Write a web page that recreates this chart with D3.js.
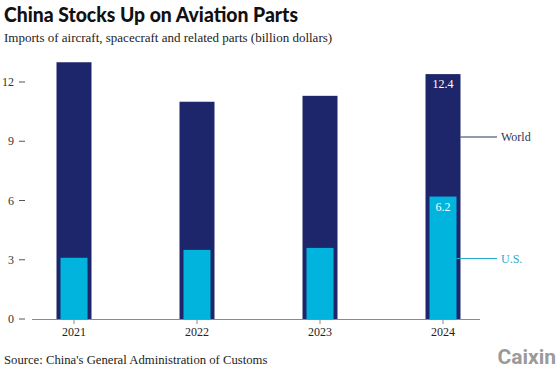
<!DOCTYPE html>
<html><head><meta charset="utf-8">
<script src="https://cdn.jsdelivr.net/npm/d3@7"></script>
<style>body{margin:0;background:#fff}svg{display:block}</style>
</head><body>
<script>
const years = ["2021","2022","2023","2024"];
const world = [13.0, 11.0, 11.3, 12.4];
const us = [3.1, 3.5, 3.6, 6.2];
const yTicks = [0, 3, 6, 9, 12];
const title = "China Stocks Up on Aviation Parts";
const subtitle = "Imports of aircraft, spacecraft and related parts (billion dollars)";
const source = "Source: China's General Administration of Customs";

const W = 560, H = 373;
const navy = "#1e266b", teal = "#00b4de";
const serif = "'Liberation Serif', 'DejaVu Serif', serif";
const svg = d3.select("body").append("svg").attr("width", W).attr("height", H);

svg.append("text").attr("x", 4).attr("y", 22).text(title)
  .attr("textLength", 294).attr("lengthAdjust", "spacingAndGlyphs")
  .style("font-family", "Lato, sans-serif").style("font-weight", 900).style("font-size", "20.5px").attr("fill", "#111");
svg.append("text").attr("x", 4).attr("y", 42).text(subtitle)
  .style("font-family", serif).style("font-size", "13px").attr("fill", "#222");

const x = d3.scaleBand().domain(years).range([12.5, 504.5]);
const y = d3.scaleLinear().domain([0, 12]).range([319, 82]);
const bw = 35, ubw = 27;
const cx = d => x(d) + x.bandwidth() / 2;

// y ticks
const yg = svg.append("g");
yTicks.forEach(t => {
  yg.append("text").attr("x", 14).attr("y", y(t)).attr("dy", "0.35em").attr("text-anchor", "end")
    .text(t).style("font-family", serif).style("font-size", "12px").attr("fill", "#333");
  yg.append("line").attr("x1", 19).attr("x2", 25).attr("y1", y(t)).attr("y2", y(t))
    .attr("stroke", "#555").attr("stroke-width", 1);
});

// bars
svg.selectAll("rect.w").data(years).join("rect").attr("class", "w")
  .attr("x", (d) => cx(d) - bw / 2).attr("width", bw)
  .attr("y", (d, i) => y(world[i])).attr("height", (d, i) => y(0) - y(world[i]))
  .attr("fill", navy);
svg.selectAll("rect.u").data(years).join("rect").attr("class", "u")
  .attr("x", (d) => cx(d) - ubw / 2).attr("width", ubw)
  .attr("y", (d, i) => y(us[i])).attr("height", (d, i) => y(0) - y(us[i]))
  .attr("fill", teal);

// x axis
svg.append("line").attr("x1", 32).attr("x2", 480).attr("y1", y(0) + 0.5).attr("y2", y(0) + 0.5)
  .attr("stroke", "#8a8a8a").attr("stroke-width", 1);
years.forEach(d => {
  svg.append("line").attr("x1", cx(d)).attr("x2", cx(d)).attr("y1", y(0)).attr("y2", y(0) + 5)
    .attr("stroke", "#8a8a8a");
  svg.append("text").attr("x", cx(d)).attr("y", 336).attr("text-anchor", "middle").text(d)
    .style("font-family", serif).style("font-size", "12px").attr("fill", "#222");
});

// value labels on 2024
const last = years.length - 1;
svg.append("text").attr("x", cx(years[last])).attr("y", y(world[last]) + 14).attr("text-anchor", "middle")
  .text(world[last].toFixed(1)).style("font-family", serif).style("font-size", "12px").attr("fill", "#fff");
svg.append("text").attr("x", cx(years[last])).attr("y", y(us[last]) + 14).attr("text-anchor", "middle")
  .text(us[last].toFixed(1)).style("font-family", serif).style("font-size", "12px").attr("fill", "#fff");

// legend labels
const lx = cx(years[last]);
svg.append("line").attr("x1", lx + bw / 2).attr("x2", 497).attr("y1", 137).attr("y2", 137)
  .attr("stroke", "#2d3560").attr("stroke-width", 1);
svg.append("text").attr("x", 501).attr("y", 137).attr("dy", "0.35em").text("World")
  .style("font-family", serif).style("font-size", "12px").attr("fill", "#2d3560");
svg.append("line").attr("x1", lx + ubw / 2).attr("x2", 497).attr("y1", 258.5).attr("y2", 258.5)
  .attr("stroke", "#27aacb").attr("stroke-width", 1);
svg.append("text").attr("x", 501).attr("y", 258.5).attr("dy", "0.35em").text("U.S.")
  .style("font-family", serif).style("font-size", "12px").attr("fill", "#27aacb");

// source
svg.append("text").attr("x", 4).attr("y", 364).text(source)
  .style("font-family", serif).style("font-size", "12.7px").attr("fill", "#222");
svg.append("text").attr("x", 556).attr("y", 364).attr("text-anchor", "end").text("Caixin")
  .style("font-family", "Roboto, sans-serif").style("font-weight", 700).style("font-size", "21px").attr("fill", "#9a9a9a");
</script>
</body></html>
